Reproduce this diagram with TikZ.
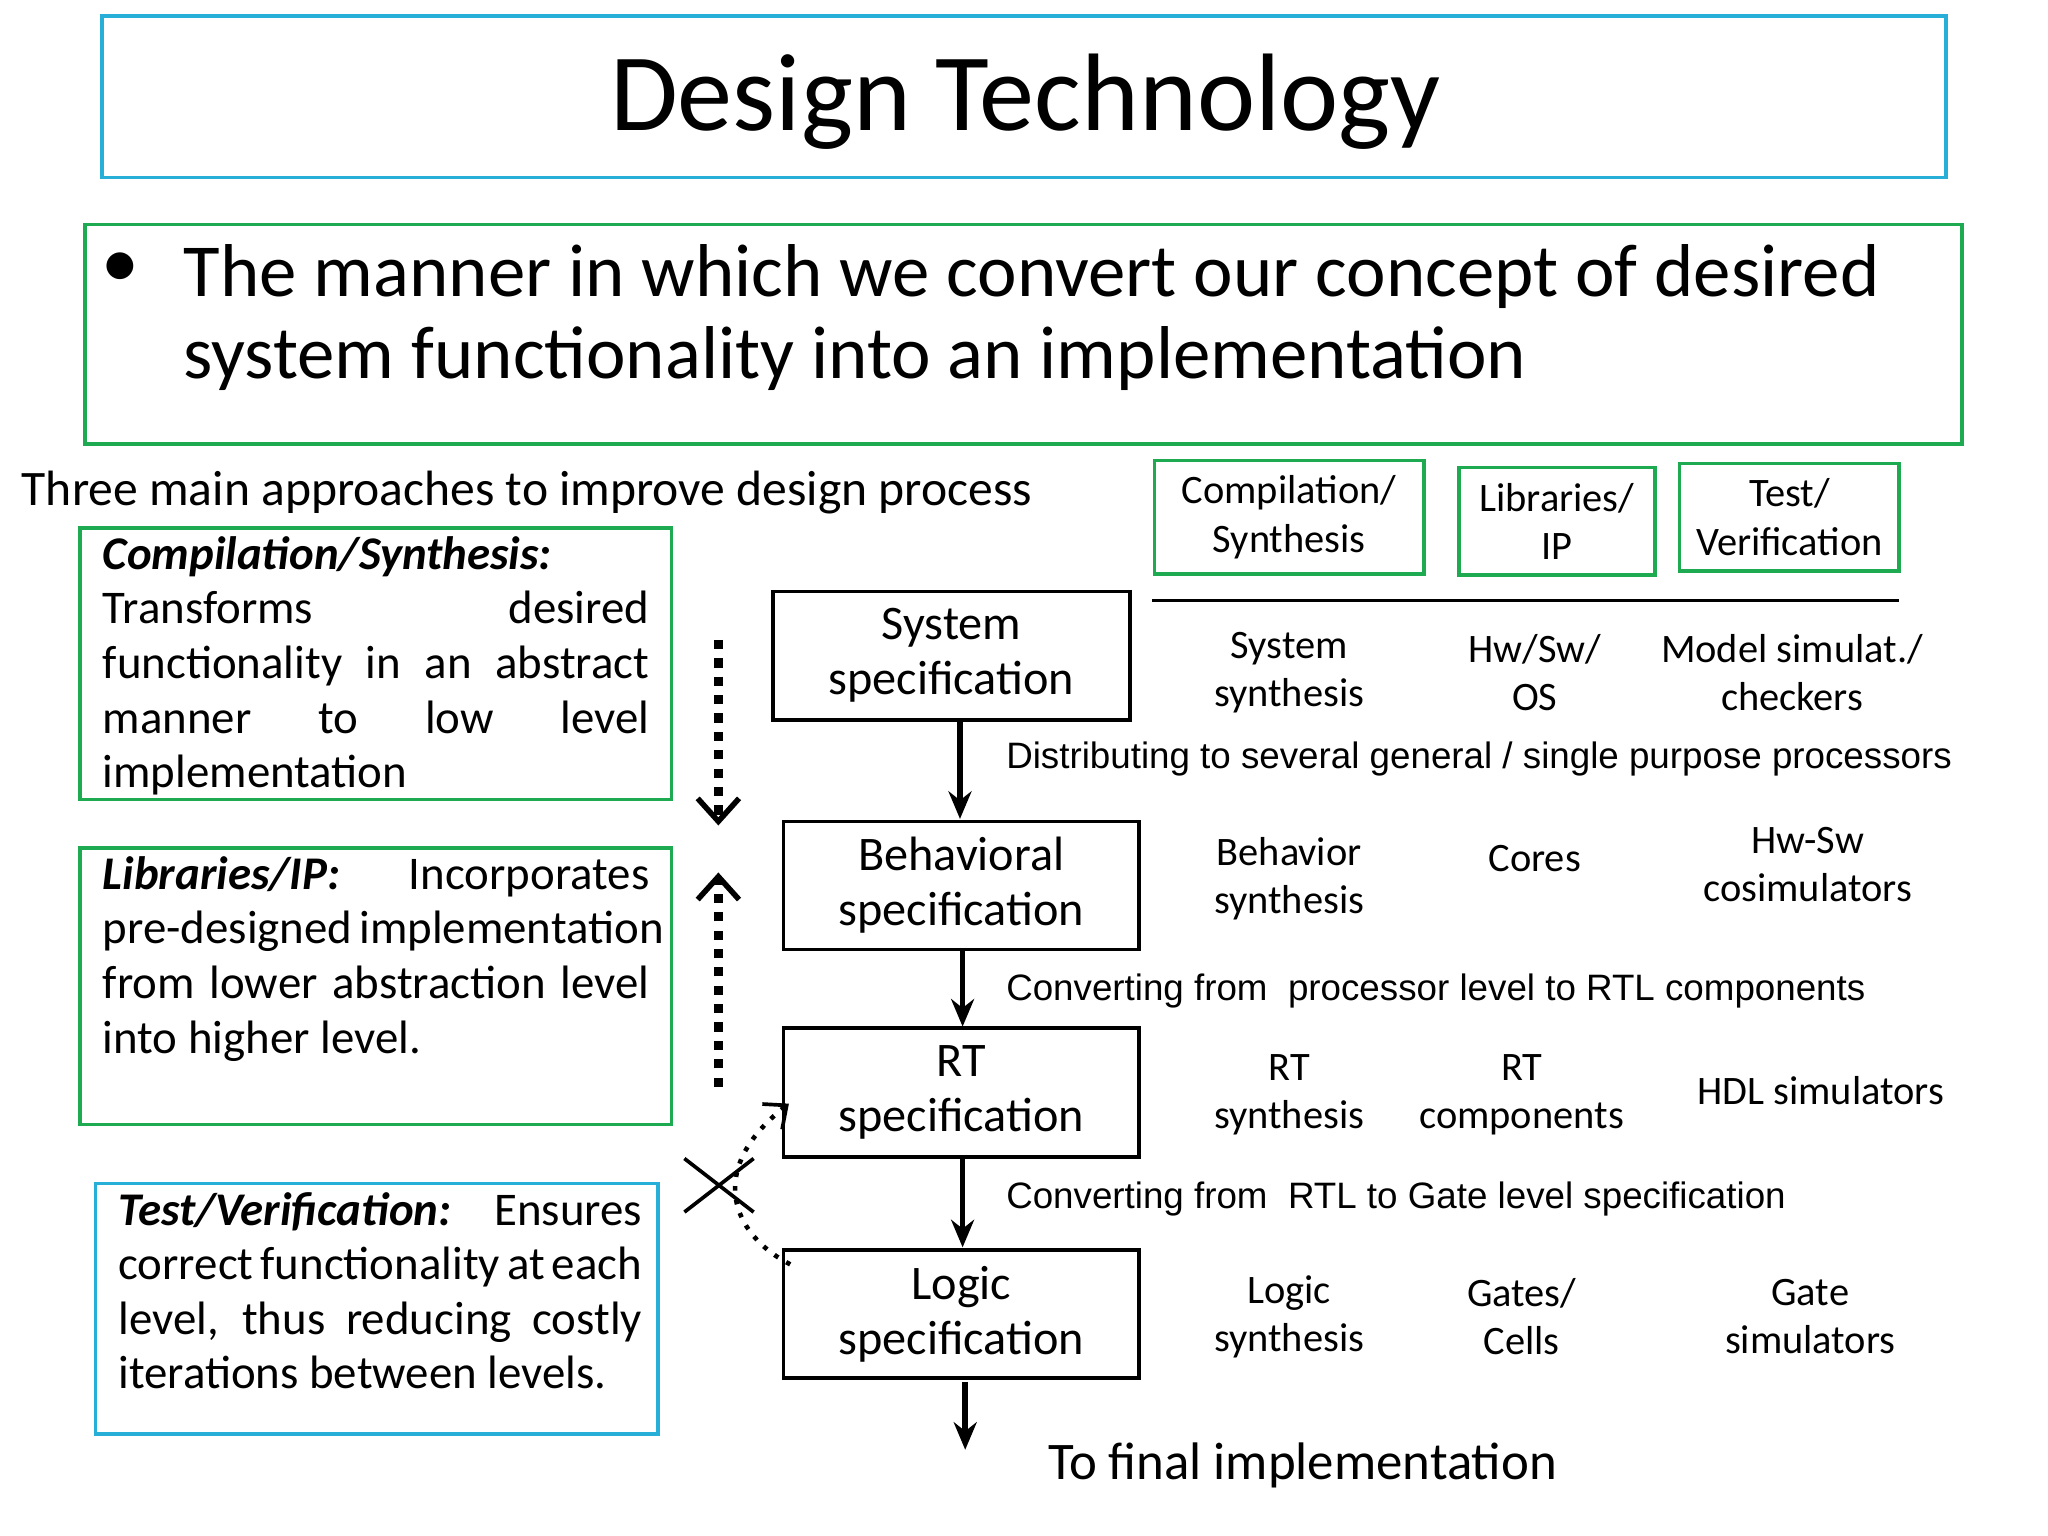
\documentclass[tikz,border=0pt]{standalone}
\usepackage{fontspec}
\setmainfont{Carlito}
\newfontfamily\arialf{Liberation Sans}
\usetikzlibrary{arrows.meta}
\definecolor{cyanb}{RGB}{40,175,215}
\definecolor{greenb}{RGB}{30,170,80}
\begin{document}
\begin{tikzpicture}[x=0.01cm,y=-0.01cm,
  cbox/.style={draw=cyanb,line width=0.8pt},
  gbox/.style={draw=greenb,line width=0.8pt},
  flow/.style={draw,line width=0.8pt,align=center,font=\fontsize{10.5}{12}\selectfont},
  lbl/.style={align=center,font=\fontsize{8.8}{10.5}\selectfont},
  alab/.style={anchor=west,font=\arialf\fontsize{8}{10}\selectfont},
  arr/.style={-{Stealth[length=6pt,width=5pt]},line width=1.2pt},
  body/.style={anchor=north west,align=left,inner sep=0pt,font=\fontsize{10.2}{11.9}\selectfont}]
\useasboundingbox (0,0) rectangle (1568,1176);
% title
\draw[cbox] (78,12) rectangle (1490,136);
\node (title) at (785,78) {\fontsize{24}{28}\selectfont Design Technology};
% bullet
\draw[gbox] (65,172) rectangle (1502,340);
\node (bul) at (92,207) {\fontsize{16.5}{18}\selectfont\textbullet};
\node (b1) [anchor=base west,inner sep=0pt] at (140,227) {\fontsize{16.3}{18}\selectfont The manner in which we convert our concept of desired};
\node (b2) [anchor=base west,inner sep=0pt] at (140,290) {\fontsize{16.3}{18}\selectfont system functionality into an implementation};
\node (three) [anchor=base west,inner sep=0pt] at (16,387) {\fontsize{10.8}{13}\selectfont Three main approaches to improve design process};
% left boxes
\draw[gbox] (61,404) rectangle (514,612);
\node (t1) [body] at (78,410) {\makebox[119pt][s]{\textbf{\textit{Compilation/Synthesis:}}\hfill}\\
\makebox[119pt][s]{Transforms desired}\\
\makebox[119pt][s]{functionality in an abstract}\\
\makebox[119pt][s]{manner to low level}\\
implementation};
\draw[gbox] (61,649) rectangle (514,861);
\node (t2) [body] at (78,655) {\makebox[119pt][s]{\textbf{\textit{Libraries/IP:}} Incorporates}\\
\makebox[119pt][s]{pre-designed implementation}\\
\makebox[119pt][s]{from lower abstraction level}\\
into higher level.};
\draw[cbox] (73,906) rectangle (504,1098);
\node (t3) [body] at (90,912) {\makebox[114pt][s]{\textbf{\textit{Test/Verification:}} Ensures}\\
\makebox[114pt][s]{correct functionality at each}\\
\makebox[114pt][s]{level, thus reducing costly}\\
iterations between levels.};
% dotted arrows
\coordinate (d1a) at (550,490); \coordinate (d1b) at (550,632);
\coordinate (d2a) at (550,832); \coordinate (d2b) at (550,668);
\draw[line width=2pt,dotted,-{Straight Barb[length=5pt,width=9pt,line width=1.2pt]}] (d1a) -- (d1b);
\draw[line width=2pt,dotted,-{Straight Barb[length=5pt,width=9pt,line width=1.2pt]}] (d2a) -- (d2b);
% flow boxes
\node (sys) [flow,minimum width=273*0.2845pt,minimum height=98*0.2845pt] at (728.5,502) {System\\specification};
\node (beh) [flow,minimum width=272*0.2845pt,minimum height=98*0.2845pt] at (736,678) {Behavioral\\specification};
\node (rt) [flow,minimum width=272*0.2845pt,minimum height=99*0.2845pt] at (736,836.5) {RT\\specification};
\node (log) [flow,minimum width=272*0.2845pt,minimum height=98*0.2845pt] at (736,1006) {Logic\\specification};
\draw[arr] (735,551) -- (735,627);
\draw[arr] (737,727) -- (737,786);
\draw[arr] (737,886) -- (737,955);
\coordinate (fin) at (739,1110);
\draw[arr] (739,1058) -- (fin);
\node (l1) [alab] at (758,581) {Distributing to several general / single purpose processors};
\node (l2) [alab] at (758,759) {Converting from\ \ processor level to RTL components};
\node (l3) [alab] at (758,918) {Converting from\ \ RTL to Gate level specification};
\node (l4) [anchor=west,font=\fontsize{11.5}{13}\selectfont] at (790,1122) {To final implementation};
% cross and dotted curve
\draw[line width=0.8pt] (524,887) -- (577,928) (524,928) -- (577,887);
\coordinate (cs) at (605,968); \coordinate (ce) at (604,845);
\draw[dotted,line width=1pt,-{Straight Barb[length=4pt,width=7pt,line width=0.8pt]}] (cs) .. controls (560,945) and (540,895) .. (ce);
% top right headers
\node (h1) [gbox,draw,align=center,lbl,minimum width=206*0.2845pt,minimum height=82*0.2845pt] at (987,396) {Compilation/\\Synthesis};
\node (h2) [gbox,draw,align=center,lbl,minimum width=150*0.2845pt,minimum height=82*0.2845pt] at (1192,399) {Libraries/\\IP};
\node (h3) [gbox,draw,align=center,lbl,minimum width=168*0.2845pt,minimum height=82*0.2845pt] at (1370,396) {Test/\\Verification};
\draw[line width=0.6pt] (882,460) -- (1454,460);
% table
\node (r11) [lbl] at (987,515) {System\\synthesis};
\node (r12) [lbl] at (1175,515) {Hw/Sw/\\OS};
\node (r13) [lbl] at (1372,515) {Model simulat./\\checkers};
\node (r21) [lbl] at (987,673) {Behavior\\synthesis};
\node (r22) [lbl] at (1175,657) {Cores};
\node (r23) [lbl] at (1384,662) {Hw-Sw\\cosimulators};
\node (r31) [lbl] at (987,838) {RT\\synthesis};
\node (r32) [lbl] at (1165,838) {RT\\components};
\node (r33) [lbl] at (1394,835) {HDL simulators};
\node (r41) [lbl] at (987,1008) {Logic\\synthesis};
\node (r42) [lbl] at (1165,1008) {Gates/\\Cells};
\node (r43) [lbl] at (1386,1008) {Gate\\simulators};
\end{tikzpicture}
\end{document}
